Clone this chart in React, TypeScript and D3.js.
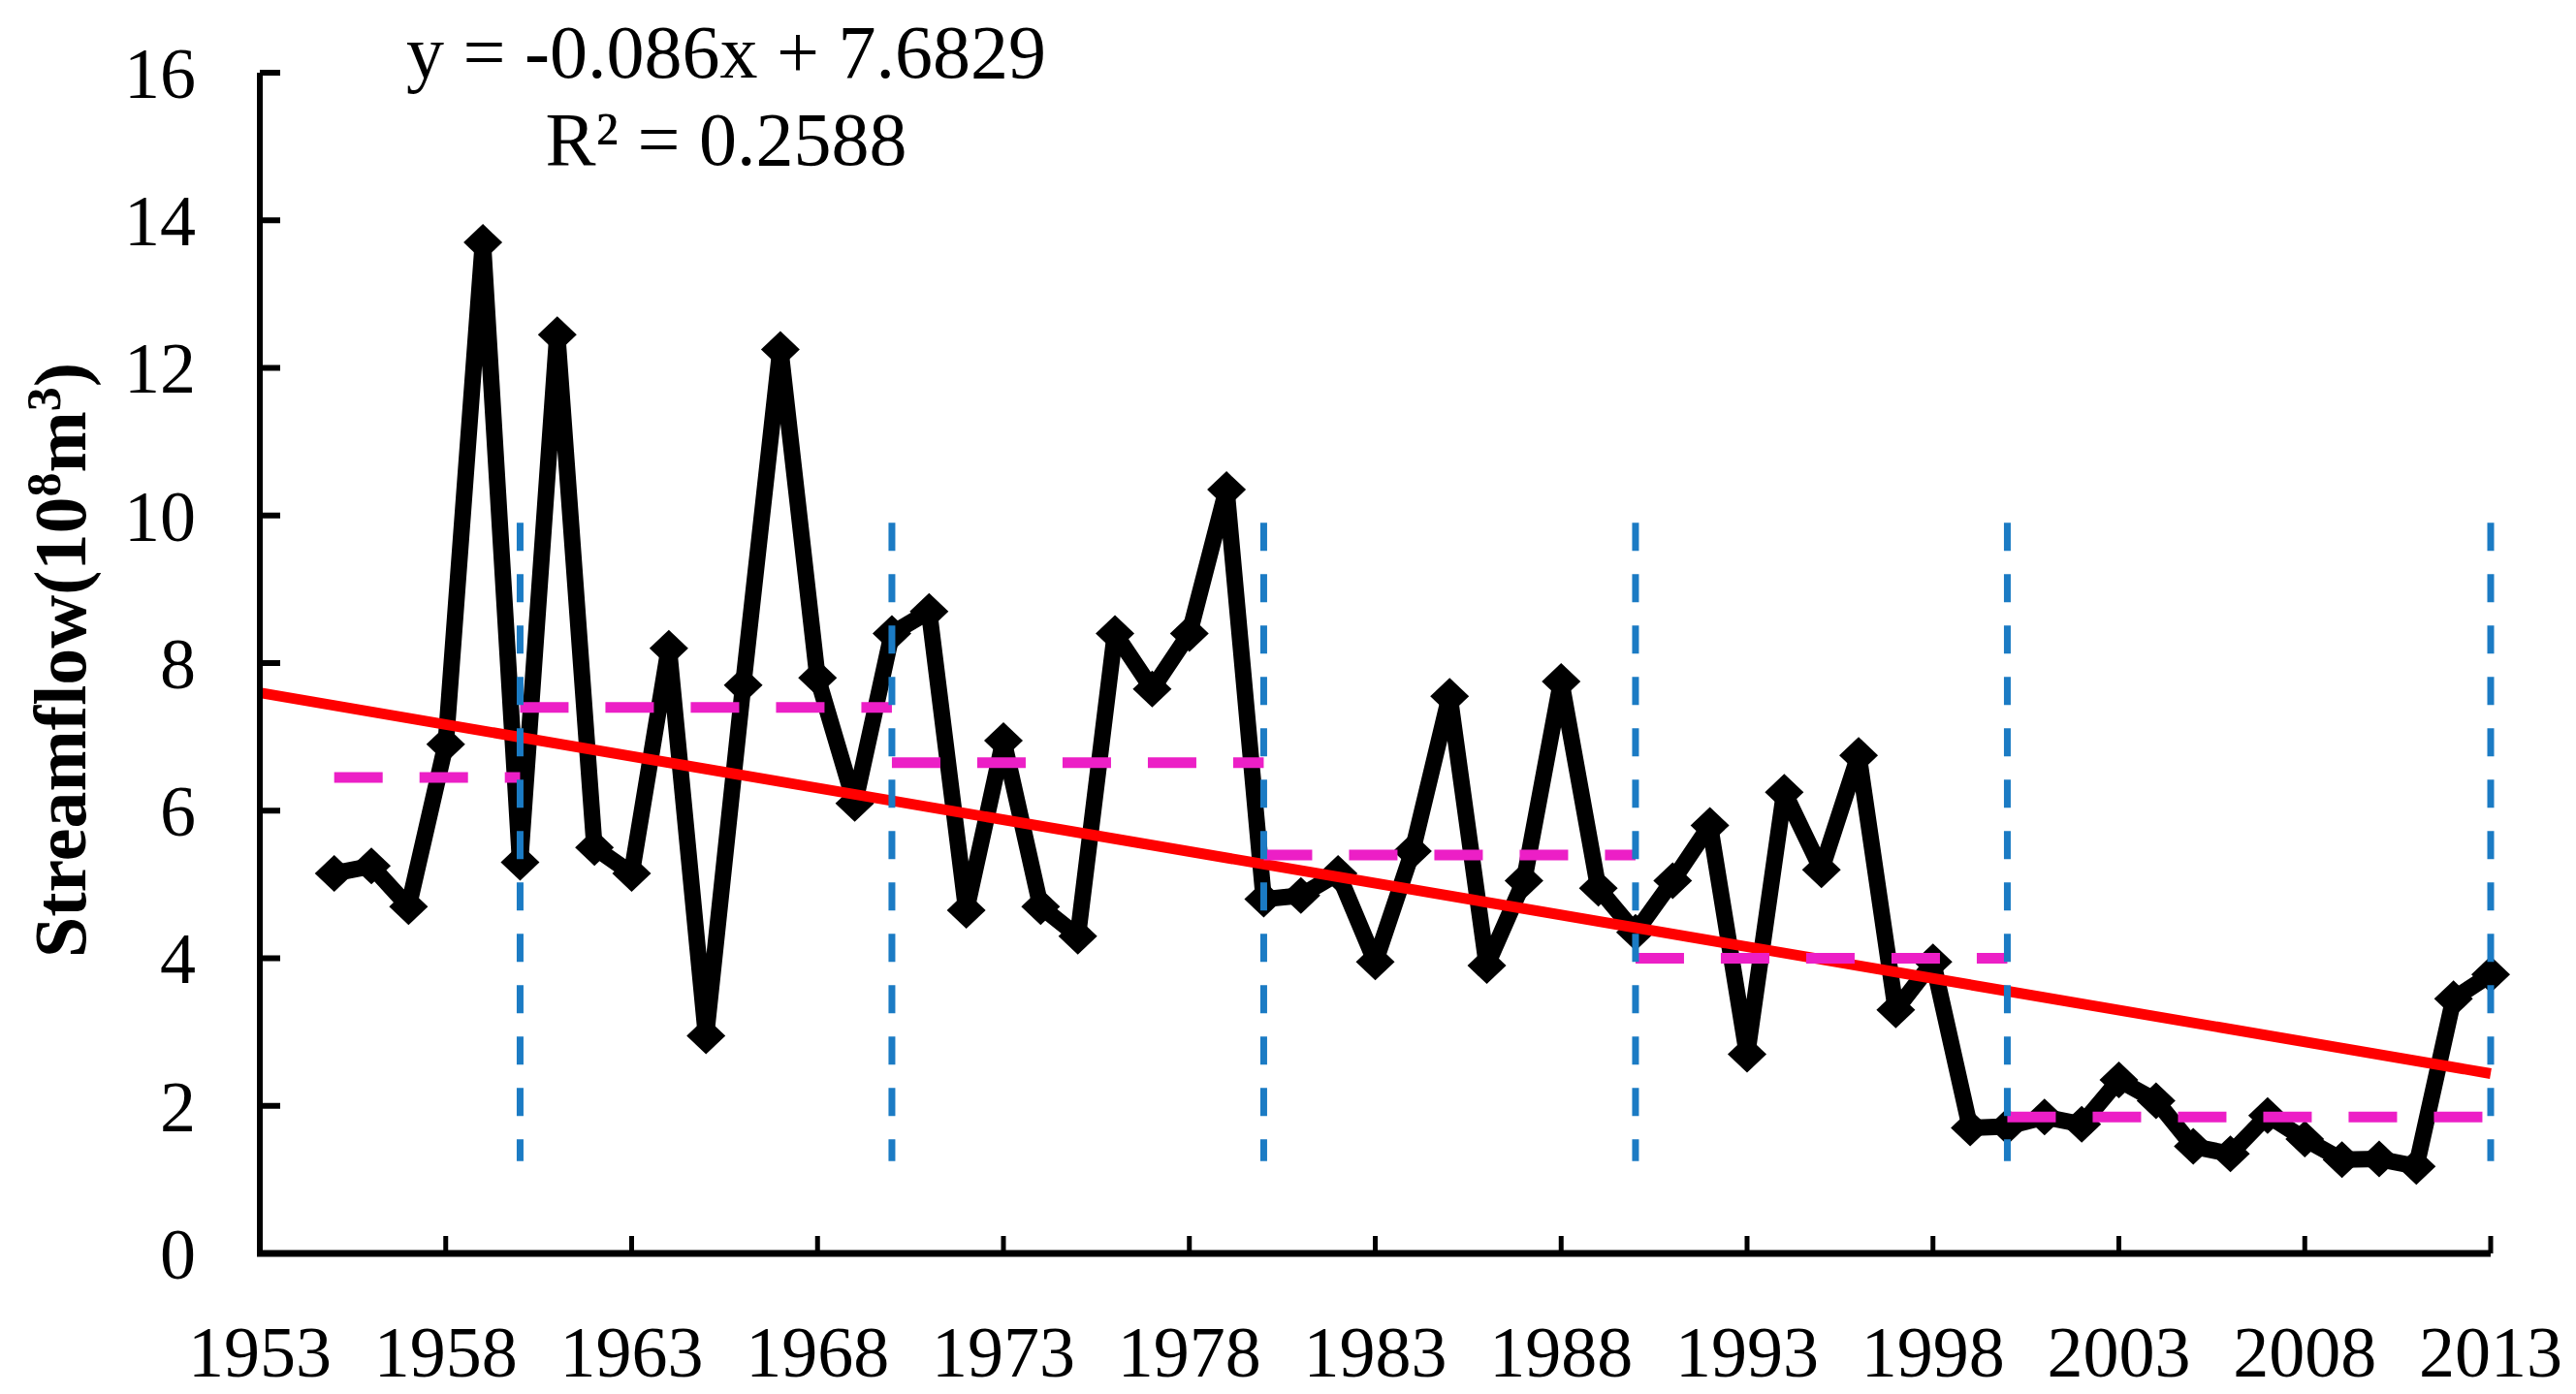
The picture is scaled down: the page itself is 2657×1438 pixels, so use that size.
import * as d3 from "d3"

// annual streamflow (10^8 m^3), 1955-2013
const years = d3.range(1955, 2014)
const streamflow = [
  5.15, 5.25, 4.7, 6.9, 13.7, 5.3, 12.45, 5.5, 5.15, 8.2,
  2.95, 7.7, 12.25, 7.8, 6.1, 8.4, 8.7, 4.65, 6.95, 4.7,
  4.3, 8.4, 7.65, 8.4, 10.35, 4.8, 4.85, 5.15, 3.95, 5.45,
  7.55, 3.9, 5.05, 7.75, 4.95, 4.35, 5.05, 5.8, 2.7, 6.25,
  5.2, 6.75, 3.3, 3.95, 1.7, 1.72, 1.85, 1.75, 2.35, 2.07,
  1.45, 1.35, 1.87, 1.55, 1.27, 1.28, 1.18, 3.45, 3.78,
]

// period means (magenta dashes)
const periodStart = [1955, 1960, 1970, 1980, 1990, 2000]
const periodEnd = [1960, 1970, 1980, 1990, 2000, 2013]
const periodMean = [6.45, 7.4, 6.65, 5.4, 4.0, 1.85]

// change-point markers (blue dashes)
const breakYears = [1960, 1970, 1980, 1990, 2000, 2013]
const breakTop = 9.9
const breakBottom = 1.25

// linear trend y = -0.086x + 7.6829, x = 1 at 1953
const slope = -0.086
const intercept = 7.6829
const trendYears = [1953, 2013]

const yTicks = d3.range(0, 17, 2)
const xTicks = d3.range(1953, 2014, 5)

const W = 2657
const H = 1438
const font = "'Liberation Serif', 'Times New Roman', serif"

export default function App() {
  const x = d3.scaleLinear().domain([1953, 2013]).range([268, 2569])
  const y = d3.scaleLinear().domain([0, 16]).range([1293, 75])

  const line = d3
    .line<number>()
    .x((_, i) => x(years[i]))
    .y((d) => y(d))

  const diamond = (cx: number, cy: number) =>
    `M${cx},${cy - 19}L${cx + 20},${cy}L${cx},${cy + 19}L${cx - 20},${cy}Z`

  const trend = (yr: number) => intercept + slope * (yr - 1952)

  return (
    <svg
      width={W}
      height={H}
      style={{ position: "absolute", left: 0, top: 0, background: "#fff" }}
    >
      <rect width={W} height={H} fill="#fff" />

      {/* series */}
      <path
        d={line(streamflow) ?? ""}
        fill="none"
        stroke="#000"
        strokeWidth={17}
        strokeLinejoin="round"
      />
      {streamflow.map((v, i) => (
        <path key={i} d={diamond(x(years[i]), y(v))} fill="#000" />
      ))}

      {/* trend */}
      <line
        x1={x(trendYears[0])}
        y1={y(trend(trendYears[0]))}
        x2={x(trendYears[1])}
        y2={y(trend(trendYears[1]))}
        stroke="#ff0000"
        strokeWidth={11}
      />

      {/* period means */}
      {periodMean.map((m, i) => (
        <line
          key={i}
          x1={x(periodStart[i])}
          x2={x(periodEnd[i])}
          y1={y(m)}
          y2={y(m)}
          stroke="#ec1fc6"
          strokeWidth={11}
          strokeDasharray="50 38"
        />
      ))}

      {/* change points */}
      {breakYears.map((yr) => (
        <line
          key={yr}
          x1={x(yr)}
          x2={x(yr)}
          y1={y(breakTop)}
          y2={y(breakBottom)}
          stroke="#1b7bc4"
          strokeWidth={7}
          strokeDasharray="29 24"
        />
      ))}

      {/* axes */}
      <line x1={268} x2={268} y1={y(16)} y2={y(0) + 3} stroke="#000" strokeWidth={6} />
      <line x1={265} x2={x(2013)} y1={y(0)} y2={y(0)} stroke="#000" strokeWidth={7} />
      {yTicks.map((t) => (
        <g key={t}>
          <line x1={268} x2={289} y1={y(t)} y2={y(t)} stroke="#000" strokeWidth={6} />
          <text
            x={202}
            y={y(t)}
            dy="0.35em"
            textAnchor="end"
            fontFamily={font}
            fontSize={74}
          >
            {t}
          </text>
        </g>
      ))}
      {xTicks.map((t) => (
        <g key={t}>
          <line x1={x(t)} x2={x(t)} y1={y(0)} y2={y(0) - 18} stroke="#000" strokeWidth={5} />
          <text
            x={x(t)}
            y={1420}
            textAnchor="middle"
            fontFamily={font}
            fontSize={74}
          >
            {t}
          </text>
        </g>
      ))}

      {/* y label */}
      <text
        transform="translate(88,681) rotate(-90)"
        textAnchor="middle"
        fontFamily={font}
        fontWeight="bold"
        fontSize={76}
      >
        Streamflow(10
        <tspan dy={-26} fontSize={50}>8</tspan>
        <tspan dy={26}>m</tspan>
        <tspan dy={-26} fontSize={50}>3</tspan>
        <tspan dy={26}>)</tspan>
      </text>

      {/* equation */}
      <text x={749} y={80} textAnchor="middle" fontFamily={font} fontSize={78}>
        y = -0.086x + 7.6829
      </text>
      <text x={749} y={170} textAnchor="middle" fontFamily={font} fontSize={78}>
        R² = 0.2588
      </text>
    </svg>
  )
}
